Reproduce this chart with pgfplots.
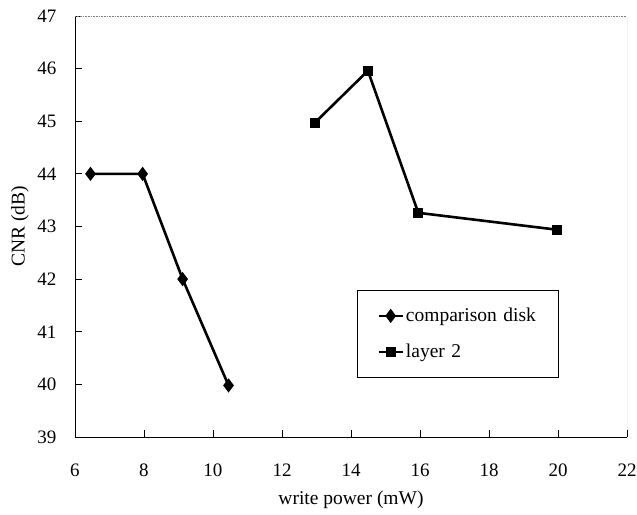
\documentclass[border=0pt]{standalone}
\usepackage{fontspec}
\setmainfont{Liberation Serif}
\usepackage{pgfplots}
\pgfplotsset{compat=1.18}
\begin{document}
\begin{tikzpicture}
\begin{axis}[
  name=ax,
  scale only axis,
  width=552pt, height=421pt,
  xmin=6, xmax=22, ymin=39, ymax=47,
  xtick={6,8,...,22}, ytick={39,40,...,47},
  axis x line*=bottom, axis y line*=left,
  axis line style={line width=0.9pt, black},
  tick align=inside,
  major tick length=7pt,
  tick style={line width=0.8pt, black},
  /pgf/number format/assume math mode=true,
  tick label style={font=\fontsize{19}{22}\selectfont},
  xticklabel style={anchor=center, yshift=-33pt},
  yticklabel style={anchor=center, xshift=-28pt},
  xlabel={write power (mW)},
  ylabel={CNR (dB)},
  label style={font=\fontsize{19.5}{22}\selectfont},
  xlabel style={at={(axis description cs:0.5,0)}, anchor=center, yshift=-63pt},
  ylabel style={at={(axis description cs:0,0.5)}, anchor=center, yshift=55pt},
  legend style={at={(0.511,0.349)}, anchor=north west, draw=black, line width=0.6pt,
    font=\fontsize{19.5}{22}\selectfont, inner xsep=20pt, inner ysep=16pt,
    row sep=17pt, text width=130pt},
  legend cell align=left,
  legend image code/.code={\draw[#1, mark repeat=2, mark phase=2] plot coordinates {(0pt,0pt) (12pt,0pt) (24pt,0pt)};},
]
\draw[densely dotted, gray, line width=0.6pt] (rel axis cs:0,1) -- (rel axis cs:1,1) -- (rel axis cs:1,0);
\addplot[black, line width=2.6pt, mark=diamond*, mark size=5pt, mark options={solid}]
  coordinates {(6.45,44.0) (7.96,44.0) (9.12,42.0) (10.45,39.98)};
\addlegendentry{comparison disk}
\addplot[black, line width=2.6pt, mark=square*, mark size=3.8pt, mark options={solid}]
  coordinates {(12.95,44.97) (14.49,45.96) (15.95,43.26) (19.96,42.94)};
\addlegendentry{layer 2}
\end{axis}
\pgfresetboundingbox
\path[use as bounding box] ([shift={(-75pt,-77pt)}]ax.south west) rectangle ([shift={(10pt,16pt)}]ax.north east);
\end{tikzpicture}
\end{document}
